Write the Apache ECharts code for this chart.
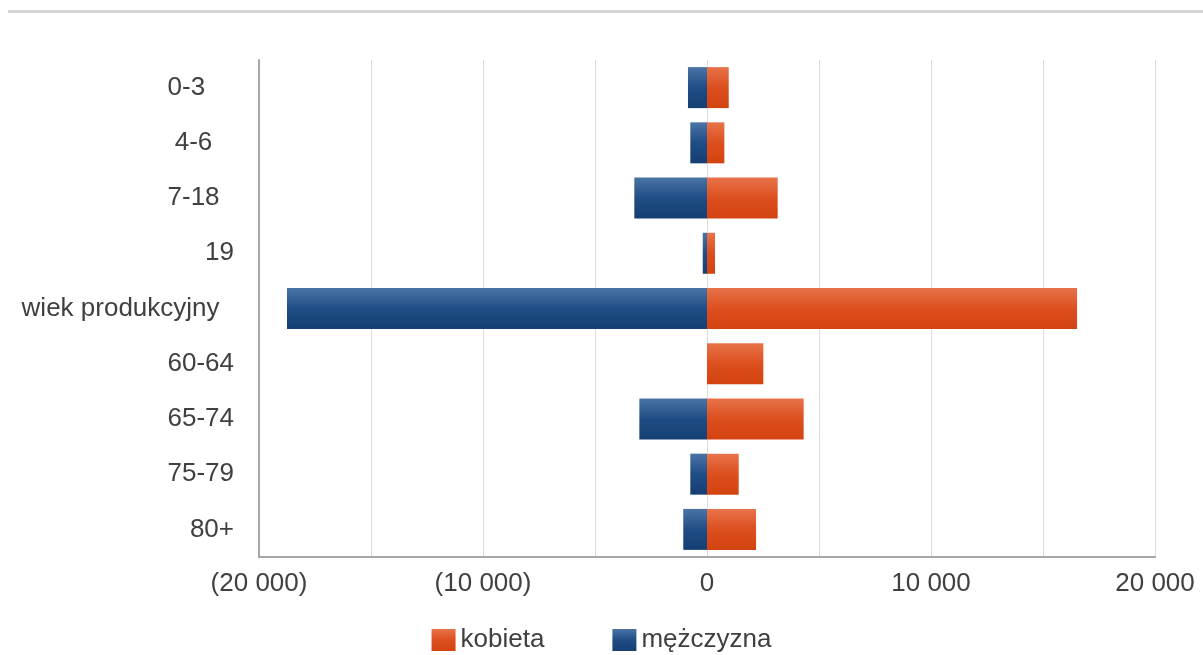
<!DOCTYPE html>
<html>
<head>
<meta charset="utf-8">
<script src="https://cdn.jsdelivr.net/npm/echarts@6/dist/echarts.min.js"></script>
<style>
html,body{margin:0;padding:0;background:#fff;}
#chart{width:1203px;height:655px;}
</style>
</head>
<body>
<div id="chart"></div>
<script>
// Categories (trailing spaces reproduce the original label text)
var categories = ['0-3    ', '4-6   ', '7-18  ', '19', 'wiek produkcyjny  ', '60-64', '65-74', '75-79', '80+'];
// Series values
var kobieta = [970, 775, 3155, 357, 16520, 2515, 4315, 1415, 2190];
var mezczyzna = [850, 745, 3245, 190, 18750, 0, 3020, 745, 1060];
var seriesNames = ['kobieta', 'mężczyzna'];
// Axis range
var xMin = -20000, xMax = 20000, xStep = 5000, labelStep = 10000;

var mezNeg = mezczyzna.map(function (v) { return -v; });

function fmt(v) {
  var a = Math.abs(v).toString().replace(/\B(?=(\d{3})+(?!\d))/g, ' ');
  return v < 0 ? '(' + a + ')' : a;
}

var FONT = 'Liberation Sans, Arial, sans-serif';
var chart = echarts.init(document.getElementById('chart'));
chart.setOption({
  animation: false,
  backgroundColor: '#ffffff',
  textStyle: { fontFamily: FONT },
  graphic: [{
    type: 'line',
    shape: { x1: 8, y1: 11.5, x2: 1203, y2: 11.5 },
    style: { stroke: '#d4d4d4', lineWidth: 3 }
  }],
  legend: {
    data: seriesNames,
    top: 622,
    left: 'center',
    icon: 'rect',
    itemWidth: 24,
    itemHeight: 22,
    itemGap: 68,
    textStyle: { fontSize: 26, color: '#404040', fontFamily: FONT }
  },
  grid: { left: 259, right: 48, top: 60, bottom: 98, containLabel: false },
  xAxis: {
    type: 'value',
    min: xMin,
    max: xMax,
    interval: xStep,
    axisLine: { show: true, lineStyle: { color: '#a6a6a6', width: 2 } },
    axisTick: { show: false },
    splitLine: { show: true, lineStyle: { color: '#dcdcdc', width: 1 } },
    axisLabel: {
      fontSize: 26,
      color: '#404040',
      margin: 14,
      formatter: function (v) { return (v % labelStep === 0) ? fmt(v) : ''; }
    }
  },
  yAxis: {
    type: 'category',
    data: categories,
    inverse: true,
    axisLine: { show: true, onZero: false, lineStyle: { color: '#a6a6a6', width: 2 } },
    axisTick: { show: false },
    splitLine: { show: false },
    axisLabel: { fontSize: 26, color: '#404040', margin: 25 }
  },
  series: [{
    name: seriesNames[0],
    type: 'bar',
    stack: 'total',
    barWidth: 41,
    data: kobieta,
    itemStyle: {
      color: new echarts.graphic.LinearGradient(0, 0, 0, 1, [
        { offset: 0, color: '#e8734a' },
        { offset: 0.5, color: '#dc4f1e' },
        { offset: 1, color: '#d2430f' }
      ])
    }
  }, {
    name: seriesNames[1],
    type: 'bar',
    stack: 'total',
    barWidth: 41,
    data: mezNeg,
    itemStyle: {
      color: new echarts.graphic.LinearGradient(0, 0, 0, 1, [
        { offset: 0, color: '#4a74a6' },
        { offset: 0.5, color: '#1f4d85' },
        { offset: 1, color: '#143f73' }
      ])
    }
  }]
});
</script>
</body>
</html>
